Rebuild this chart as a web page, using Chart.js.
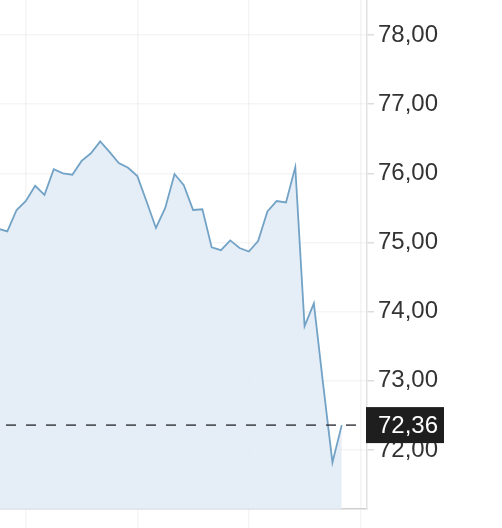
<!DOCTYPE html>
<html lang="de">
<head>
    <meta charset="UTF-8">
    <title>Kursverlauf</title>
    <script src="https://cdn.jsdelivr.net/npm/chart.js"></script>
    <style>
        html, body {
            margin: 0;
            padding: 0;
            background: #ffffff;
            overflow: hidden;
        }
        canvas {
            display: block;
        }
    </style>
</head>
<body>
    <canvas id="priceChart" width="502" height="528"></canvas>

    <script>
        // Kurswerte, one per step
        const prices = [
            75.20, 75.16, 75.47, 75.60, 75.82, 75.69, 76.06, 76.00, 75.98, 76.18,
            76.29, 76.46, 76.31, 76.15, 76.08, 75.96, 75.59, 75.21, 75.50, 75.99,
            75.83, 75.47, 75.48, 74.93, 74.89, 75.03, 74.92, 74.87, 75.02, 75.45,
            75.60, 75.58, 76.09, 73.79, 74.12, 72.95, 71.82, 72.36
        ];
        const lastPrice = 72.36;
        const yTicks = [72, 73, 74, 75, 76, 77, 78];
        const xGrid = [3, 15, 27, 39];

        const fmt = v => v.toFixed(2).replace('.', ',');

        const points = prices.map((p, i) => ({ x: i, y: p }));

        // dashed line + black price tag on the right axis
        const lastPricePlugin = {
            id: 'lastPrice',
            afterDatasetsDraw(chart) {
                const { ctx, chartArea, scales } = chart;
                const py = scales.y.getPixelForValue(lastPrice);
                ctx.save();
                ctx.strokeStyle = '#3c3f44';
                ctx.lineWidth = 1.5;
                ctx.setLineDash([10, 10]);
                ctx.lineDashOffset = 14;
                ctx.beginPath();
                ctx.moveTo(chartArea.left, py);
                ctx.lineTo(chartArea.right, py);
                ctx.stroke();
                ctx.restore();
            },
            afterDraw(chart) {
                const { ctx, chartArea, scales } = chart;
                const py = scales.y.getPixelForValue(lastPrice);
                ctx.save();
                ctx.fillStyle = '#1e1e1e';
                ctx.fillRect(chartArea.right - 1, py - 18, 78, 36);
                ctx.fillStyle = '#ffffff';
                ctx.font = '24px "Liberation Sans", Arial, Helvetica, sans-serif';
                ctx.textAlign = 'left';
                ctx.textBaseline = 'middle';
                ctx.fillText(fmt(lastPrice), chartArea.right + 11, py + 1);
                ctx.restore();
            }
        };

        const ctx = document.getElementById('priceChart').getContext('2d');

        const priceChart = new Chart(ctx, {
            type: 'line',
            data: {
                datasets: [{
                    data: points,
                    borderColor: '#72a3c6',
                    borderWidth: 1.8,
                    backgroundColor: 'rgba(224, 234, 246, 0.85)',
                    fill: 'start',
                    pointRadius: 0,
                    tension: 0
                }]
            },
            options: {
                responsive: false,
                animation: false,
                layout: { padding: 0 },
                plugins: {
                    legend: { display: false },
                    tooltip: { enabled: false }
                },
                scales: {
                    x: {
                        type: 'linear',
                        min: 0.214,
                        max: 39.72,
                        afterBuildTicks: scale => {
                            scale.ticks = xGrid.map(v => ({ value: v }));
                        },
                        afterFit: scale => {
                            scale.height = 19;
                            scale.paddingLeft = 0;
                            scale.paddingRight = 0;
                        },
                        ticks: { display: false },
                        grid: {
                            color: 'rgba(0, 0, 0, 0.045)',
                            tickLength: 19,
                            lineWidth: 1.5
                        },
                        border: {
                            color: '#cfcfcf',
                            width: 1.5
                        }
                    },
                    y: {
                        position: 'right',
                        min: 71.147,
                        max: 78.506,
                        afterBuildTicks: scale => {
                            scale.ticks = yTicks.map(v => ({ value: v }));
                        },
                        afterFit: scale => {
                            scale.width = 135;
                            scale.paddingTop = 0;
                            scale.paddingBottom = 0;
                        },
                        ticks: {
                            color: '#333333',
                            padding: 4,
                            font: {
                                family: '"Liberation Sans", Arial, Helvetica, sans-serif',
                                size: 24
                            },
                            callback: v => fmt(v)
                        },
                        grid: {
                            color: 'rgba(0, 0, 0, 0.04)',
                            tickColor: '#dddddd',
                            tickLength: 7,
                            lineWidth: 1.5
                        },
                        border: {
                            color: '#e2e2e2',
                            width: 1.5
                        }
                    }
                }
            },
            plugins: [lastPricePlugin]
        });
    </script>
</body>
</html>
